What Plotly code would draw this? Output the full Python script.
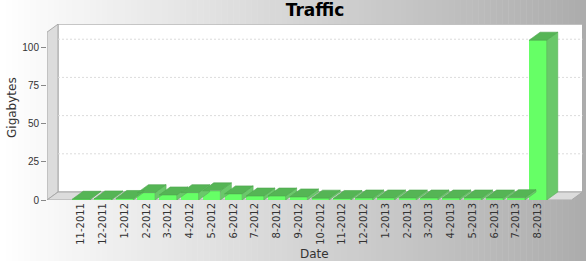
import plotly.graph_objects as go

categories = ["11-2011", "12-2011", "1-2012", "2-2012", "3-2012", "4-2012", "5-2012",
              "6-2012", "7-2012", "8-2012", "9-2012", "10-2012", "11-2012", "12-2012",
              "1-2013", "2-2013", "3-2013", "4-2013", "5-2013", "6-2013", "7-2013", "8-2013"]
gigabytes = [0.5, 0.7, 1.0, 4.8, 3.3, 4.8, 6.0, 4.0, 2.6, 2.6, 2.0, 1.2, 1.0, 1.3,
             1.3, 1.3, 1.3, 1.3, 1.3, 1.3, 1.5, 104.6]
y_ticks = [0, 25, 50, 75, 100]

W, H = 586, 261
ML, MR, MT, MB = 47, 3, 24, 61
PW, PH = W - ML - MR, H - MT - MB
XLO, XHI = -1.5625, 23.07
YLO, YHI = 0, 115.2
ppx = PW / (XHI - XLO)
ppy = PH / (YHI - YLO)
DX = 11 / ppx   # depth offset in data units
DY = 8 / ppy
BW = 0.81

n = len(categories)
xs = list(range(n))

fig = go.Figure()

sx, sy = [], []
tx, ty = [], []
for i, v in zip(xs, gigabytes):
    r = i + BW / 2
    l = i - BW / 2
    sx += [r, r + DX, r + DX, r, r, None]
    sy += [0, DY, v + DY, v, 0, None]
    tx += [l, r, r + DX, l + DX, l, None]
    ty += [v, v, v + DY, v + DY, v, None]

fig.add_trace(go.Scatter(x=sx, y=sy, mode="lines", fill="toself", fillcolor="#6ac86a",
                         line=dict(width=0.6, color="#5bb05b"), hoverinfo="skip", showlegend=False))
fig.add_trace(go.Scatter(x=tx, y=ty, mode="lines", fill="toself", fillcolor="#55b555",
                         line=dict(width=0.6, color="#4ea64e"), hoverinfo="skip", showlegend=False))
fig.add_trace(go.Bar(x=xs, y=gigabytes, width=BW, marker=dict(color="#66ff66", line=dict(width=0)),
                     showlegend=False))

shapes = []
NS = 98
for k in range(NS):
    px0 = k * W / NS
    px1 = (k + 1) * W / NS + 0.5
    c = int(round(255 - (255 - 172) * (k + 0.5) / NS))
    shapes.append(dict(type="rect", xref="paper", yref="paper",
                       x0=(px0 - ML) / PW, x1=(px1 - ML) / PW,
                       y0=-MB / PH - 0.01, y1=(H - MB) / PH + 0.01,
                       fillcolor=f"rgb({c},{c},{c})", line=dict(width=0), layer="below"))
shapes.append(dict(type="rect", xref="x", yref="y", x0=XLO + DX, x1=XHI - 0.02, y0=DY, y1=YHI - 0.1,
                   fillcolor="white", line=dict(color="#a8a8a8", width=1), layer="below"))
shapes.append(dict(type="path", xref="x", yref="y",
                   path=f"M {XLO},{0} L {XLO + DX},{DY} L {XLO + DX},{YHI - 0.1} L {XLO},{YHI - 0.1 - DY} Z",
                   fillcolor="#dcdcdc", line=dict(color="#a8a8a8", width=1), layer="below"))
shapes.append(dict(type="path", xref="x", yref="y",
                   path=f"M {XLO},{0} L {XHI - DX - 0.02},{0} L {XHI - 0.02},{DY} L {XLO + DX},{DY} Z",
                   fillcolor="#dcdcdc", line=dict(color="#a8a8a8", width=1), layer="below"))
for t in y_ticks[1:]:
    shapes.append(dict(type="line", xref="x", yref="y", x0=XLO + DX, x1=XHI - 0.02, y0=t + DY, y1=t + DY,
                       line=dict(color="#dcdcdc", width=1, dash="2px,2px"), layer="below"))

annotations = [
    dict(text="Date", x=(314 - ML) / PW, y=(H - MB - 254) / PH, xref="paper", yref="paper",
         showarrow=False, font=dict(family="DejaVu Sans", size=12, color="#333333"),
         xanchor="center", yanchor="middle"),
    dict(text="Gigabytes", x=(12 - ML) / PW, y=(H - MB - 108) / PH, xref="paper", yref="paper",
         showarrow=False, textangle=-90, font=dict(family="DejaVu Sans", size=12, color="#333333"),
         xanchor="center", yanchor="middle"),
]

fig.update_layout(
    width=W, height=H,
    margin=dict(l=ML, r=MR, t=MT, b=MB, pad=0),
    paper_bgcolor="white", plot_bgcolor="rgba(0,0,0,0)",
    title=dict(text="<b>Traffic</b>", x=0.5, xref="paper", y=1 - 10.5 / H, yanchor="middle",
               font=dict(family="DejaVu Sans", size=17, color="black")),
    shapes=shapes, annotations=annotations,
    bargap=0,
    xaxis=dict(range=[XLO, XHI], tickvals=xs, ticktext=categories, tickangle=-90,
               showgrid=False, zeroline=False, showline=False, ticks="",
               tickfont=dict(family="DejaVu Sans", size=10, color="#333333")),
    yaxis=dict(range=[YLO, YHI], tickvals=y_ticks, ticks="outside", ticklen=5, tickcolor="#888888",
               showgrid=False, zeroline=False, showline=False,
               tickfont=dict(family="Liberation Sans", size=10, color="#333333")),
)

fig.write_html("out.html")
